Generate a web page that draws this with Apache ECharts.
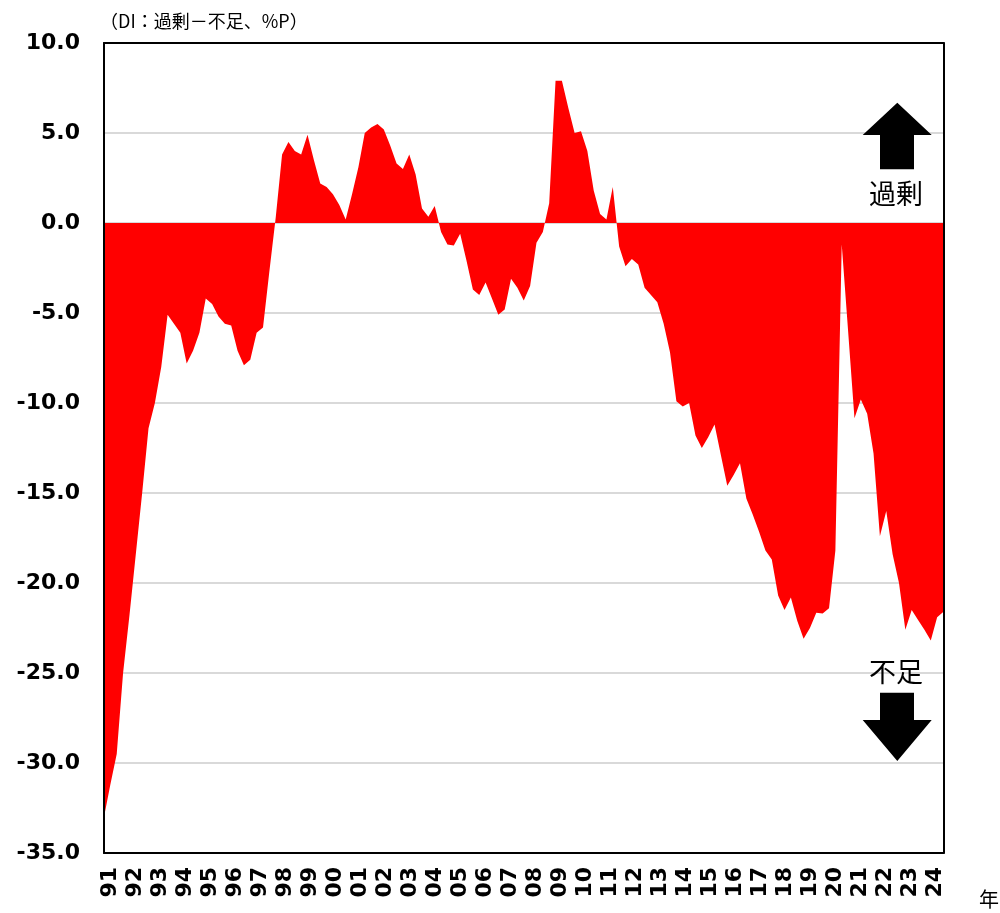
<!DOCTYPE html>
<html>
<head>
<meta charset="utf-8">
<script src="https://cdn.jsdelivr.net/npm/echarts@6/dist/echarts.min.js"></script>
<style>
html,body{margin:0;padding:0;background:#ffffff;}
#chart{width:1000px;height:913px;}
</style>
</head>
<body>
<div id="chart"></div>
<script>
// Year tick labels shown under the axis
const yearLabels = ['91','92','93','94','95','96','97','98','99','00','01','02','03','04','05','06','07','08','09','10','11','12','13','14','15','16','17','18','19','20','21','22','23','24'];

// Quarterly categories (first survey: 1991 Q2, last: 2024 Q2)
const firstQuarter = 2;
const lastQuarter = 2;

// DI (excess - shortage, %P), one value per quarter
const diValues = [
  -33.0, -31.2, -29.5,                 // 91
  -25.0, -21.8, -18.4, -15.0,          // 92
  -11.4, -10.0, -8.0, -5.1,            // 93
  -5.6, -6.1, -7.8, -7.1,              // 94
  -6.1, -4.2, -4.5, -5.2,              // 95
  -5.6, -5.7, -7.1, -7.9,              // 96
  -7.6, -6.1, -5.8, -2.7,              // 97
  0.3, 3.8, 4.5, 4.0,                  // 98
  3.8, 4.9, 3.5, 2.2,                  // 99
  2.0, 1.6, 1.0, 0.2,                  // 00
  1.6, 3.1, 5.0, 5.3,                  // 01
  5.5, 5.2, 4.3, 3.3,                  // 02
  3.0, 3.8, 2.7, 0.8,                  // 03
  0.35, 0.95, -0.5, -1.2,              // 04
  -1.25, -0.6, -2.1, -3.7,             // 05
  -4.0, -3.3, -4.2, -5.1,              // 06
  -4.8, -3.1, -3.6, -4.3,              // 07
  -3.5, -1.1, -0.5, 1.1,               // 08
  7.9, 7.9, 6.4, 5.0,                  // 09
  5.1, 4.0, 1.8, 0.5,                  // 10
  0.2, 2.0, -1.3, -2.4,                // 11
  -2.0, -2.3, -3.6, -4.0,              // 12
  -4.4, -5.6, -7.2, -9.9,              // 13
  -10.2, -10.0, -11.8, -12.5,          // 14
  -11.9, -11.2, -12.9, -14.6,          // 15
  -14.0, -13.35, -15.3, -16.2,         // 16
  -17.15, -18.2, -18.7, -20.7,         // 17
  -21.5, -20.8, -22.1, -23.1,          // 18
  -22.5, -21.65, -21.7, -21.4,         // 19
  -18.2, -1.2, -6.0, -10.85,           // 20
  -9.8, -10.6, -12.8, -17.4,           // 21
  -16.0, -18.4, -20.0, -22.6,          // 22
  -21.5, -22.05, -22.6, -23.2,         // 23
  -21.9, -21.6                         // 24
];

const yMin = -35, yMax = 10, yStep = 5;

// build category names (library input)
const categories = [];
yearLabels.forEach(function (yy, yi) {
  for (let q = 1; q <= 4; q++) {
    if (yi === 0 && q < firstQuarter) continue;
    if (yi === yearLabels.length - 1 && q > lastQuarter) continue;
    categories.push(yy + 'Q' + q);
  }
});

const chart = echarts.init(document.getElementById('chart'), null, {renderer: 'canvas'});

const boldFont = 'DejaVu Sans';
const jpFont = '"Noto Sans CJK JP", "Noto Sans", sans-serif';

const frameLine = {show: true, onZero: false, lineStyle: {color: '#000000', width: 2}};
const hiddenParts = {axisTick: {show: false}, axisLabel: {show: false}, splitLine: {show: false}};

const option = {
  animation: false,
  backgroundColor: '#ffffff',
  title: {
    text: '（DI：過剰－不足、%P）',
    left: 95,
    top: 7,
    textStyle: {fontFamily: jpFont, fontSize: 18, fontWeight: 'normal', color: '#000000'}
  },
  grid: [
    {left: 104, right: 56.5, top: 43, bottom: 60, show: false},
    {left: 97.5, right: 52.5, top: 43, bottom: 60, show: false}
  ],
  xAxis: [
    Object.assign({
      type: 'category', gridIndex: 0, data: categories, boundaryGap: false, position: 'bottom', z: 10,
      axisLine: frameLine
    }, hiddenParts),
    Object.assign({
      type: 'category', gridIndex: 0, data: categories, boundaryGap: false, position: 'top', z: 10,
      axisLine: frameLine
    }, hiddenParts),
    {
      type: 'category', gridIndex: 1, data: yearLabels, boundaryGap: true,
      axisLine: {show: false}, axisTick: {show: false}, splitLine: {show: false},
      axisLabel: {
        show: true, interval: 0, rotate: 90, margin: 14,
        fontFamily: boldFont, fontWeight: 'bold', fontSize: 22, color: '#000000'
      }
    }
  ],
  yAxis: [
    {
      type: 'value', gridIndex: 0, min: yMin, max: yMax, interval: yStep,
      axisLine: {show: false}, axisTick: {show: false},
      splitLine: {show: true, lineStyle: {color: '#d9d9d9', width: 2}},
      axisLabel: {
        margin: 24, fontFamily: boldFont, fontWeight: 'bold', fontSize: 22, color: '#000000',
        formatter: function (v) { return v.toFixed(1); }
      }
    },
    Object.assign({
      type: 'value', gridIndex: 0, min: yMin, max: yMax, position: 'left', z: 10,
      axisLine: frameLine
    }, hiddenParts),
    Object.assign({
      type: 'value', gridIndex: 0, min: yMin, max: yMax, position: 'right', z: 10,
      axisLine: frameLine
    }, hiddenParts),
    {
      type: 'value', gridIndex: 1, show: false
    }
  ],
  series: [
    {
      type: 'line', xAxisIndex: 0, yAxisIndex: 0, data: diValues,
      symbol: 'none', smooth: false, z: 2,
      lineStyle: {width: 0, color: '#ff0000'},
      areaStyle: {color: '#ff0000', opacity: 1}
    }
  ],
  graphic: [
    {type: 'polygon', z: 20, shape: {points: [[897.3, 102.7], [931.7, 135], [914, 135], [914, 169.3], [880, 169.3], [880, 135], [862.7, 135]]}, style: {fill: '#000000'}},
    {type: 'text', z: 20, left: 869, top: 180, style: {text: '過剰', font: '27px "Noto Sans CJK JP"', fill: '#000000'}},
    {type: 'text', z: 20, left: 869, top: 658, style: {text: '不足', font: '27px "Noto Sans CJK JP"', fill: '#000000'}},
    {type: 'polygon', z: 20, shape: {points: [[880, 692.7], [914, 692.7], [914, 720], [931.7, 720], [897.3, 761], [862.7, 720], [880, 720]]}, style: {fill: '#000000'}},
    {type: 'text', z: 20, left: 979, top: 889, style: {text: '年', font: '20px "Noto Sans CJK JP"', fill: '#000000'}}
  ]
};

chart.setOption(option);
</script>
</body>
</html>
